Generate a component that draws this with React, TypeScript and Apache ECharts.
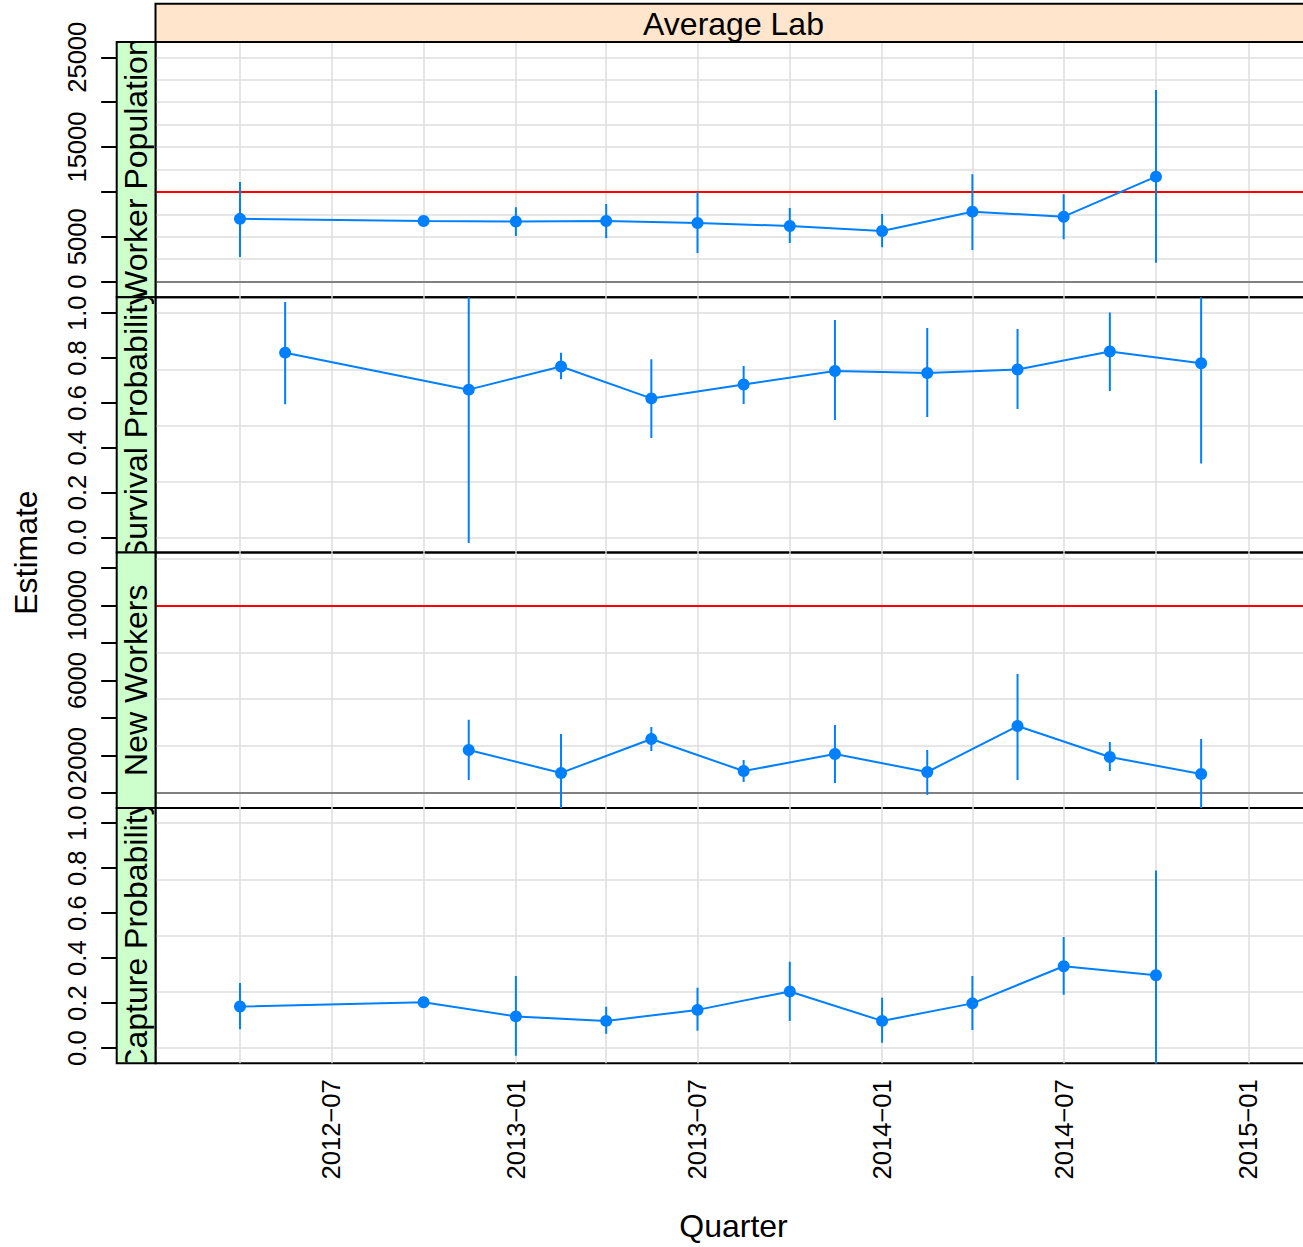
import React, { useEffect, useRef } from 'react';
import * as echarts from 'echarts';

// ---------- data ----------
const topStripLabel = 'Average Lab';
const stripLabels = ['Worker Population', 'Survival Probability', 'New Workers', 'Capture Probability'];
const xTitle = 'Quarter';
const yTitle = 'Estimate';

const popDates = ['2012-04-01', '2012-10-01', '2013-01-01', '2013-04-01', '2013-07-01', '2013-10-01', '2014-01-01', '2014-04-01', '2014-07-01', '2014-10-01'];
const popEst = [7000, 6760, 6700, 6760, 6540, 6200, 5650, 7800, 7240, 11700];
const popLo = [2750, 6300, 5100, 4870, 3200, 4300, 3830, 3530, 4720, 2120];
const popHi = [11100, 7200, 8300, 8660, 10000, 8200, 7540, 11970, 9740, 21360];

const survDates = ['2012-05-16', '2012-11-15', '2013-02-15', '2013-05-16', '2013-08-16', '2013-11-15', '2014-02-15', '2014-05-16', '2014-08-16', '2014-11-15'];
const survEst = [0.824, 0.659, 0.762, 0.62, 0.682, 0.742, 0.733, 0.749, 0.829, 0.777];
const survLo = [0.594, -0.025, 0.705, 0.443, 0.595, 0.524, 0.537, 0.573, 0.653, 0.33];
const survHi = [1.05, 1.25, 0.824, 0.795, 0.765, 0.97, 0.934, 0.93, 1.003, 1.2];

const nwDates = ['2012-11-15', '2013-02-15', '2013-05-16', '2013-08-16', '2013-11-15', '2014-02-15', '2014-05-16', '2014-08-16', '2014-11-15'];
const nwEst = [2290, 1070, 2880, 1170, 2080, 1120, 3570, 1920, 1010];
const nwLo = [690, -1200, 2240, 590, 530, -100, 690, 1170, -1200];
const nwHi = [3900, 3150, 3520, 1760, 3630, 2290, 6350, 2720, 2880];

const capDates = ['2012-04-01', '2012-10-01', '2013-01-01', '2013-04-01', '2013-07-01', '2013-10-01', '2014-01-01', '2014-04-01', '2014-07-01', '2014-10-01'];
const capEst = [0.185, 0.204, 0.141, 0.121, 0.17, 0.252, 0.121, 0.199, 0.364, 0.324];
const capLo = [0.084, 0.183, -0.034, 0.064, 0.077, 0.121, 0.024, 0.081, 0.237, -0.1];
const capHi = [0.289, 0.228, 0.321, 0.184, 0.268, 0.384, 0.224, 0.321, 0.494, 0.79];

const quarterGrid = ['2012-04-01', '2012-07-01', '2012-10-01', '2013-01-01', '2013-04-01', '2013-07-01', '2013-10-01', '2014-01-01', '2014-04-01', '2014-07-01', '2014-10-01', '2015-01-01'];
const xLabelDates = ['2012-07-01', '2013-01-01', '2013-07-01', '2014-01-01', '2014-07-01', '2015-01-01'];

const popTicks = [0, 5000, 10000, 15000, 20000, 25000];
const popLabels = [0, 5000, 15000, 25000];
const popGridY = [0, 2500, 5000, 7500, 10000, 12500, 15000, 17500, 20000, 22500, 25000];
const probTicks = [0, 0.2, 0.4, 0.6, 0.8, 1.0];
const probGridY = [0, 0.25, 0.5, 0.75, 1.0];
const nwTicks = [0, 2000, 4000, 6000, 8000, 10000, 12000];
const nwLabels = [0, 2000, 6000, 10000];
const nwGridY = [0, 2500, 5000, 7500, 10000, 12500];
const zeroLine = 0;
const targetLine = 10000;

// ---------- layout ----------
const W = 1303;
const H = 1247;
const LEFT = 155.5;
const PW = 1156;
const TOP = 42;
const PH = 255.3;
const STRIP_X = 116.7;
const STRIP_W = LEFT - STRIP_X;
const FONT = "'Liberation Sans', Arial, Helvetica, sans-serif";
const BLUE = '#0080ff';
const X_MIN = Date.UTC(2012, 0, 7, 19);
const X_MAX = Date.UTC(2015, 2, 5, 0);

const ts = (s: string) => Date.parse(s + 'T00:00:00Z');

const panels = [
  { dates: popDates, est: popEst, lo: popLo, hi: popHi, min: -1740, max: 26700, ticks: popTicks, labels: popLabels, gridY: popGridY, fmt: (v: number) => String(Math.round(v)), refs: true },
  { dates: survDates, est: survEst, lo: survLo, hi: survHi, min: -0.068, max: 1.071, ticks: probTicks, labels: probTicks, gridY: probGridY, fmt: (v: number) => v.toFixed(1), refs: false },
  { dates: nwDates, est: nwEst, lo: nwLo, hi: nwHi, min: -795, max: 12821, ticks: nwTicks, labels: nwLabels, gridY: nwGridY, fmt: (v: number) => String(Math.round(v)), refs: true },
  { dates: capDates, est: capEst, lo: capLo, hi: capHi, min: -0.067, max: 1.068, ticks: probTicks, labels: probTicks, gridY: probGridY, fmt: (v: number) => v.toFixed(1), refs: false },
];

function buildOption() {
  const grid: any[] = [];
  const xAxis: any[] = [];
  const yAxis: any[] = [];
  const series: any[] = [];

  panels.forEach((p, i) => {
    grid.push({
      left: LEFT, top: TOP + i * PH, width: PW, height: PH,
      show: true, borderColor: '#000', borderWidth: 2, backgroundColor: 'transparent',
      containLabel: false, outerBoundsMode: 'none',
    });
    const isBottom = i === panels.length - 1;
    xAxis.push({
      type: 'value', gridIndex: i, min: X_MIN, max: X_MAX, scale: true,
      axisLine: { show: false }, axisTick: { show: false }, splitLine: { show: false },
      axisLabel: isBottom ? {
        show: true,
        customValues: xLabelDates.map(ts),
        rotate: 90, align: 'right', verticalAlign: 'middle', margin: 16,
        fontSize: 25.6, fontFamily: FONT, color: '#000',
        formatter: (v: number) => {
          const d = new Date(v);
          const m = d.getUTCMonth() + 1;
          return `${d.getUTCFullYear()}\u2212${m < 10 ? '0' + m : m}`;
        },
      } : { show: false },
    });
    yAxis.push({
      type: 'value', gridIndex: i, min: p.min, max: p.max, offset: LEFT - STRIP_X,
      axisLine: { show: false },
      splitLine: { show: false },
      axisTick: { show: true, inside: false, length: 15.5, customValues: p.ticks, lineStyle: { color: '#000', width: 2 } },
      axisLabel: {
        show: true, customValues: p.labels, rotate: 90, align: 'center', verticalAlign: 'middle',
        margin: 39.5, fontSize: 25.6, fontFamily: FONT, color: '#000',
        formatter: (v: number) => p.fmt(v),
      },
    });

    // background reference grid
    series.push({
      type: 'line', xAxisIndex: i, yAxisIndex: i, data: [], silent: true, z: 1,
      markLine: {
        silent: true, z: 1, animation: false, symbol: ['none', 'none'],
        label: { show: false },
        lineStyle: { color: '#dedede', width: 1.5, type: 'solid' },
        emphasis: { disabled: true },
        data: [
          ...p.gridY.map((v) => ({ yAxis: v })),
          ...quarterGrid.map((d) => ({ xAxis: ts(d) })),
        ],
      },
    });

    if (p.refs) {
      series.push({
        type: 'line', xAxisIndex: i, yAxisIndex: i, data: [], silent: true, z: 2,
        markLine: {
          silent: true, z: 2, animation: false, symbol: ['none', 'none'],
          label: { show: false },
          emphasis: { disabled: true },
          data: [
            { yAxis: zeroLine, lineStyle: { color: '#808080', width: 2, type: 'solid' } },
            { yAxis: targetLine, lineStyle: { color: '#ff0000', width: 2, type: 'solid' } },
          ],
        },
      });
    }

    // error bars
    series.push({
      type: 'custom', xAxisIndex: i, yAxisIndex: i, z: 3, clip: true, silent: true,
      data: p.dates.map((d, k) => [ts(d), p.lo[k], p.hi[k]]),
      encode: { x: 0, y: [1, 2] },
      renderItem: (params: any, api: any) => {
        const x = api.value(0);
        const a = api.coord([x, api.value(1)]);
        const b = api.coord([x, api.value(2)]);
        return {
          type: 'line',
          shape: { x1: a[0], y1: a[1], x2: b[0], y2: b[1] },
          style: { stroke: BLUE, lineWidth: 2 },
        };
      },
    });

    // estimates
    series.push({
      type: 'line', xAxisIndex: i, yAxisIndex: i, z: 4, clip: true, silent: true,
      data: p.dates.map((d, k) => [ts(d), p.est[k]]),
      symbol: 'circle', symbolSize: 12, showSymbol: true,
      itemStyle: { color: BLUE },
      lineStyle: { color: BLUE, width: 2 },
      emphasis: { disabled: true },
    });
  });

  // left strips (clipped text)
  series.push({
    type: 'custom', coordinateSystem: 'none', z: 10, silent: true,
    data: stripLabels.map((_, i) => [i]),
    renderItem: (params: any) => {
      const i = params.dataIndex;
      const y0 = TOP + i * PH;
      return {
        type: 'group',
        children: [
          {
            type: 'rect',
            shape: { x: STRIP_X, y: y0, width: STRIP_W, height: PH },
            style: { fill: '#CCFFCC', stroke: '#000', lineWidth: 2 },
          },
          {
            type: 'group',
            clipPath: { type: 'rect', shape: { x: STRIP_X, y: y0 + 1, width: STRIP_W, height: PH - 2 } },
            children: [
              {
                type: 'text',
                x: STRIP_X + STRIP_W / 2,
                y: y0 + PH / 2,
                rotation: Math.PI / 2,
                style: {
                  text: stripLabels[i], fontSize: 32, fontFamily: FONT, fill: '#000',
                  align: 'center', verticalAlign: 'middle',
                },
              },
            ],
          },
        ],
      };
    },
  });

  const graphic: any[] = [
    {
      type: 'rect', z: 20,
      shape: { x: LEFT, y: 3.7, width: PW, height: TOP - 3.7 },
      style: { fill: '#FFE5CC', stroke: '#000', lineWidth: 2 },
    },
    {
      type: 'text', z: 21, x: 733.5, y: 23.5,
      style: { text: topStripLabel, fontSize: 32, fontFamily: FONT, fill: '#000', align: 'center', verticalAlign: 'middle' },
    },
    {
      type: 'text', z: 21, x: 25.5, y: TOP + 2 * PH, rotation: Math.PI / 2,
      style: { text: yTitle, fontSize: 32, fontFamily: FONT, fill: '#000', align: 'center', verticalAlign: 'middle' },
    },
    {
      type: 'text', z: 21, x: 733.5, y: 1225.5,
      style: { text: xTitle, fontSize: 32, fontFamily: FONT, fill: '#000', align: 'center', verticalAlign: 'middle' },
    },
  ];

  return {
    animation: false,
    backgroundColor: '#ffffff',
    textStyle: { fontFamily: FONT },
    grid, xAxis, yAxis, series, graphic,
  };
}

export default function App() {
  const ref = useRef<HTMLDivElement>(null);
  useEffect(() => {
    if (!ref.current) return;
    const chart = echarts.init(ref.current, null, { renderer: 'svg', width: W, height: H });
    chart.setOption(buildOption() as any);
    return () => chart.dispose();
  }, []);
  return (
    <div
      ref={ref}
      style={{ position: 'absolute', left: 0, top: 0, width: W, height: H, background: '#fff' }}
    />
  );
}
